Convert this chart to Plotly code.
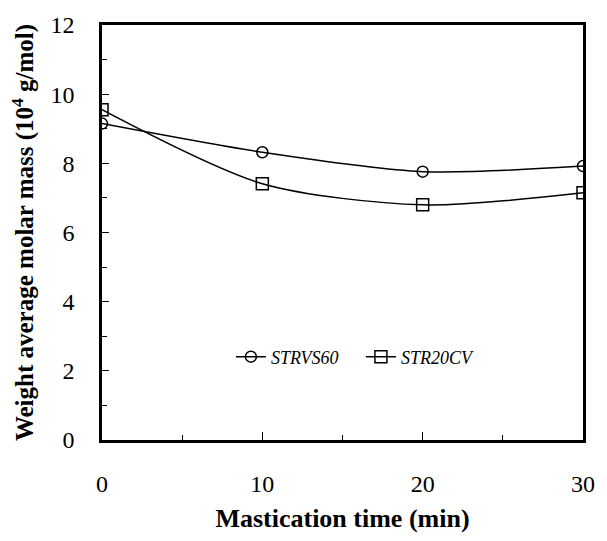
import plotly.graph_objects as go

time_min = [0, 10, 20, 30]
strvs60 = [9.15, 8.32, 7.76, 7.92]
str20cv = [9.55, 7.41, 6.80, 7.15]

font_family = "Liberation Serif"

fig = go.Figure()
fig.add_trace(go.Scatter(
    x=time_min, y=strvs60, name="STRVS60", mode="lines+markers",
    line=dict(color="black", width=1.5, shape="spline", smoothing=0.8),
    marker=dict(symbol="circle-open", size=11, color="black", line=dict(width=1.5)),
))
fig.add_trace(go.Scatter(
    x=time_min, y=str20cv, name="STR20CV", mode="lines+markers",
    line=dict(color="black", width=1.5, shape="spline", smoothing=0.8),
    marker=dict(symbol="square-open", size=12, color="black", line=dict(width=1.5)),
))

fig.update_layout(
    width=607, height=541,
    margin=dict(l=102, r=14, t=19, b=97),
    paper_bgcolor="white", plot_bgcolor="white",
    font=dict(family=font_family, size=24, color="black"),
    showlegend=True,
    legend=dict(
        x=0.268, y=0.200, xanchor="left", yanchor="middle",
        orientation="h", bgcolor="rgba(0,0,0,0)",
        font=dict(family=font_family, size=18, style="italic"),
        itemwidth=30, entrywidth=85,
    ),
)
fig.update_xaxes(
    range=[0, 30], tickvals=[0, 10, 20, 30], ticks="inside", ticklen=8,
    tickwidth=1, tickcolor="black",
    minor=dict(dtick=5, ticks="inside", ticklen=5, tickcolor="black"),
    showline=True, linecolor="black", linewidth=2.5, mirror=True,
    showgrid=False, zeroline=False,
    ticklabelstandoff=20,
    title=dict(text="<b>Mastication time (min)</b>", font=dict(size=26), standoff=14),
)
fig.update_yaxes(
    range=[0, 12], dtick=2, ticks="inside", ticklen=7,
    tickwidth=1, tickcolor="black",
    minor=dict(dtick=1, ticks="inside", ticklen=5, tickcolor="black"),
    showline=True, linecolor="black", linewidth=2.5, mirror=True,
    showgrid=False, zeroline=False,
    ticklabelstandoff=20,
    title=dict(text="<b>Weight average molar mass (10<sup>4</sup> g/mol)</b>", font=dict(size=25), standoff=10),
)

fig.write_html("out.html")
